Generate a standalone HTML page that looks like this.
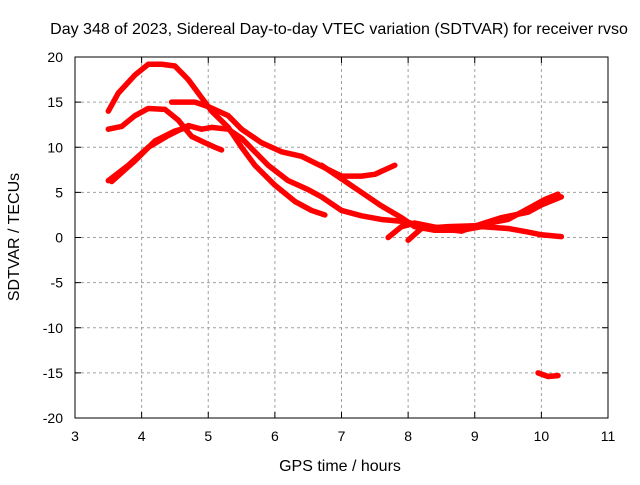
<!DOCTYPE html>
<html><head><meta charset="utf-8"><style>
body{margin:0;background:#fff;}
svg text{font-family:"Liberation Sans",sans-serif;font-size:14px;fill:#000;}
svg text.big{font-size:16px;}
</style></head><body>
<svg id="chart" width="640" height="480" xmlns="http://www.w3.org/2000/svg">
<rect width="640" height="480" fill="#fff"/>
<g id="grid"></g>
<g id="series"></g>
<rect x="75" y="57" width="533" height="361" fill="none" stroke="#000" stroke-width="1"/>
<g id="ticks"></g>
<text class="big" x="339" y="34" text-anchor="middle">Day 348 of 2023, Sidereal Day-to-day VTEC variation (SDTVAR) for receiver rvso</text>
<text class="big" x="340" y="471" text-anchor="middle">GPS time / hours</text>
<text class="big" transform="translate(19,237) rotate(-90)" text-anchor="middle">SDTVAR / TECUs</text>
</svg>
<script>
const xTicks=[3,4,5,6,7,8,9,10,11];
const yTicks=[-20,-15,-10,-5,0,5,10,15,20];
const traceA=[[3.5,14],[3.65,16],[3.9,18],[4.1,19.2],[4.3,19.2],[4.5,19],[4.7,17.5],[4.9,15.5],[5.05,14],[5.3,12.2],[5.5,10],[5.7,8],[6.0,5.8],[6.3,4],[6.55,3],[6.75,2.5]];
const traceB=[[3.5,12],[3.7,12.3],[3.9,13.5],[4.1,14.3],[4.35,14.2],[4.55,13],[4.75,11.2],[4.95,10.5],[5.1,10],[5.2,9.7]];
const traceC=[[3.5,6.3],[3.8,8],[4.1,10],[4.4,11.3],[4.7,12.4],[4.9,12],[5.05,12.2],[5.3,12],[5.5,11],[5.7,9.5],[5.9,8],[6.2,6.3],[6.5,5.3],[6.7,4.5],[7.0,3],[7.3,2.4],[7.6,2],[7.9,1.8],[8.1,1.5]];
const traceC2=[[3.55,6.2],[3.9,8.5],[4.2,10.7],[4.5,11.8],[4.7,12.2]];
const traceD=[[4.45,15],[4.8,15],[5.0,14.5],[5.3,13.5],[5.5,12],[5.8,10.5],[6.1,9.5],[6.4,9],[6.7,7.9],[7.0,6.8],[7.3,6.8],[7.5,7],[7.8,8]];
const traceE=[[6.7,8],[7.0,6.5],[7.3,5],[7.6,3.5],[7.9,2.2],[8.1,1.2],[8.4,0.8],[8.8,0.8],[9.1,1.2],[9.5,1],[9.8,0.6],[10,0.3],[10.3,0.1]];
const traceF=[[7.7,0],[7.9,1.2],[8.1,1.6],[8.5,1],[8.8,0.7],[9.1,1.5],[9.4,2.2],[9.8,2.8],[10.0,3.6],[10.3,4.5]];
const traceG=[[8.0,-0.3],[8.2,1],[8.6,1.2],[9.0,1.3],[9.5,2],[9.8,3.2],[10.05,4.2],[10.25,4.8]];
const traceH=[[9.95,-15],[10.1,-15.4],[10.25,-15.3]];
const traces=[traceA,traceB,traceC,traceC2,traceD,traceE,traceF,traceG,traceH];
const NS="http://www.w3.org/2000/svg";
const X=v=>75+(v-3)*533/8, Y=v=>237.5-v*361/40;
function mk(t,a,p){const e=document.createElementNS(NS,t);for(const k in a)e.setAttribute(k,a[k]);p.appendChild(e);return e;}
const grid=document.getElementById('grid'),ticks=document.getElementById('ticks'),ser=document.getElementById('series');
xTicks.forEach(v=>{const x=X(v);
 if(v>3&&v<11){const l=mk('line',{x1:x,x2:x,y1:57,y2:418,stroke:'#a0a0a0','stroke-dasharray':'3,3'},grid);
 
 }
 mk('line',{x1:x,x2:x,y1:418,y2:412,stroke:'#000'},ticks);mk('line',{x1:x,x2:x,y1:57,y2:63,stroke:'#000'},ticks);
 const t=mk('text',{x:x,y:441,'text-anchor':'middle'},ticks);t.textContent=v;
 
 });
yTicks.forEach(v=>{const y=Y(v);
 if(v>-20&&v<20){const l=mk('line',{x1:75,x2:608,y1:y,y2:y,stroke:'#a0a0a0','stroke-dasharray':'3,3'},grid);
 
 }
 mk('line',{x1:75,x2:81,y1:y,y2:y,stroke:'#000'},ticks);mk('line',{x1:608,x2:602,y1:y,y2:y,stroke:'#000'},ticks);
 const t=mk('text',{x:63,y:y+5,'text-anchor':'end'},ticks);t.textContent=v;
 
 });
traces.forEach(tr=>{const p=mk('polyline',{points:tr.map(d=>X(d[0])+','+Y(d[1])).join(' '),fill:'none',stroke:'#ff0000','stroke-width':5.5,'stroke-linejoin':'round','stroke-linecap':'round'},ser);
 
 });
</script>
</body></html>
